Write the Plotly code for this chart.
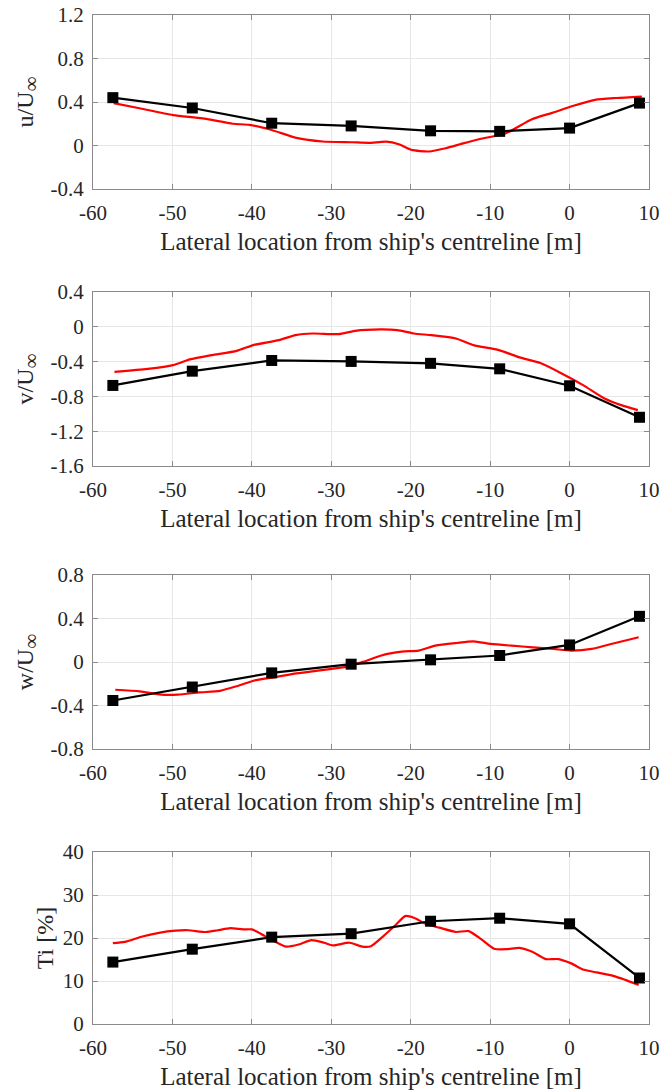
import plotly.graph_objects as go

# ---- data ----
x_exp = [-57.5, -47.5, -37.5, -27.5, -17.5, -8.8, 0.0, 8.8]

u_exp = [0.44, 0.345, 0.205, 0.18, 0.135, 0.13, 0.16, 0.39]
v_exp = [-0.674, -0.51, -0.387, -0.398, -0.42, -0.483, -0.678, -1.04]
w_exp = [-0.354, -0.23, -0.10, -0.02, 0.02, 0.06, 0.157, 0.42]
ti_exp = [14.4, 17.4, 20.2, 21.0, 23.9, 24.6, 23.3, 10.7]

u_cfd_x = [-57.4, -54.0, -49.9, -46.2, -42.4, -40.3, -37.6, -34.4, -31.1, -27.4, -25.2, -23.1, -21.5,
           -19.9, -17.7, -15.6, -13.4, -11.3, -8.1, -4.8, -2.2, 0.5, 3.2, 5.9, 9.1]
u_cfd = [0.39, 0.34, 0.28, 0.25, 0.20, 0.19, 0.145, 0.07, 0.037, 0.03, 0.025, 0.035, 0.012,
         -0.04, -0.055, -0.025, 0.02, 0.06, 0.11, 0.24, 0.30, 0.366, 0.42, 0.437, 0.45]

v_cfd_x = [-57.3, -53.1, -49.9, -47.8, -45.1, -41.9, -39.8, -36.6, -34.5, -32.3, -29.1, -27.0, -23.8,
           -21.7, -19.6, -17.4, -14.3, -12.1, -8.9, -6.3, -3.6, -1.0, 1.7, 4.4, 6.5, 8.6]
v_cfd = [-0.517, -0.483, -0.44, -0.375, -0.326, -0.276, -0.21, -0.153, -0.096, -0.077, -0.084, -0.046, -0.03,
         -0.038, -0.077, -0.096, -0.134, -0.21, -0.268, -0.352, -0.42, -0.536, -0.67, -0.824, -0.9, -0.958]

w_cfd_x = [-57.2, -54.1, -51.4, -49.3, -46.6, -44.0, -41.8, -39.7, -37.1, -34.4, -31.2, -28.0, -25.9,
           -23.8, -21.1, -19.0, -16.9, -14.2, -12.1, -9.9, -7.3, -4.6, -2.0, 0.2, 2.8, 5.5, 8.7]
w_cfd = [-0.255, -0.27, -0.30, -0.30, -0.28, -0.265, -0.22, -0.17, -0.14, -0.105, -0.074, -0.043, 0.003,
         0.058, 0.095, 0.105, 0.15, 0.175, 0.19, 0.166, 0.15, 0.135, 0.12, 0.105, 0.12, 0.17, 0.228]

ti_cfd_x = [-57.5, -56.0, -53.9, -51.7, -49.6, -48.0, -45.8, -44.3, -42.7, -41.1, -40.0, -38.4, -36.8,
            -35.7, -34.1, -32.5, -30.9, -29.8, -27.7, -26.1, -25.0, -23.4, -21.8, -20.7, -19.6, -18.0,
            -16.4, -14.3, -12.7, -11.1, -9.5, -7.9, -6.3, -4.7, -3.0, -1.4, 0.2, 1.8, 3.4, 5.5, 7.1, 8.7]
ti_cfd = [18.8, 19.1, 20.3, 21.2, 21.7, 21.8, 21.4, 21.8, 22.3, 22.0, 22.0, 20.5, 18.9,
          18.0, 18.5, 19.5, 18.9, 18.3, 18.9, 18.0, 18.1, 20.5, 23.2, 25.1, 24.7, 23.2,
          22.4, 21.4, 21.6, 19.7, 17.5, 17.4, 17.7, 16.8, 15.1, 15.1, 14.1, 12.6, 12.0, 11.2, 10.2, 9.1]

x_tickvals = [-60, -50, -40, -30, -20, -10, 0, 10]
x_ticktext = ["-60", "-50", "-40", "-30", "-20", "-10", "0", "10"]

y_ticks = [
    ([-0.4, 0, 0.4, 0.8, 1.2], ["-0.4", "0", "0.4", "0.8", "1.2"]),
    ([-1.6, -1.2, -0.8, -0.4, 0, 0.4], ["-1.6", "-1.2", "-0.8", "-0.4", "0", "0.4"]),
    ([-0.8, -0.4, 0, 0.4, 0.8], ["-0.8", "-0.4", "0", "0.4", "0.8"]),
    ([0, 10, 20, 30, 40], ["0", "10", "20", "30", "40"]),
]
y_ranges = [[-0.4, 1.2], [-1.6, 0.4], [-0.8, 0.8], [0, 40]]
INF = "<sub><span style='font-size:21px'>∞</span></sub>"
y_titles = ["u/U" + INF, "v/U" + INF, "w/U" + INF, "Ti [%]"]
y_title_standoff = [10, 10, 10, 2]
x_title = "Lateral location from ship's centreline [m]"

W, H = 662, 1091
panels_px = [(15, 189), (292, 466), (575, 749), (852, 1024)]
x_px = (93, 649)

FONT = "Liberation Serif, Times New Roman, serif"
TXT = "#262626"

fig = go.Figure()
series = [(u_cfd_x, u_cfd, u_exp), (v_cfd_x, v_cfd, v_exp), (w_cfd_x, w_cfd, w_exp), (ti_cfd_x, ti_cfd, ti_exp)]

for i, (cx, cy, ey) in enumerate(series):
    xa = "x" if i == 0 else f"x{i+1}"
    ya = "y" if i == 0 else f"y{i+1}"
    fig.add_trace(go.Scatter(x=cx, y=cy, mode="lines",
                             line=dict(color="#ff0000", width=2.2, shape="spline", smoothing=0.6),
                             xaxis=xa, yaxis=ya, showlegend=False))
    fig.add_trace(go.Scatter(x=x_exp, y=ey, mode="lines+markers", line=dict(color="#000000", width=2.2),
                             marker=dict(symbol="square", size=11, color="#000000"),
                             xaxis=xa, yaxis=ya, showlegend=False))

layout = dict(width=W, height=H, margin=dict(l=0, r=0, t=0, b=0),
              paper_bgcolor="white", plot_bgcolor="white",
              font=dict(family=FONT, color=TXT, size=21))

axis_common = dict(showline=True, linecolor="#8a8a8a", linewidth=1, mirror="ticks",
                   ticks="inside", ticklen=5, tickcolor="#8a8a8a",
                   showgrid=True, gridcolor="#e6e6e6", gridwidth=1, zeroline=False,
                   ticklabeloverflow="allow",
                   tickfont=dict(family=FONT, size=21, color=TXT), automargin=False)

for i, (top, bot) in enumerate(panels_px):
    sfx = "" if i == 0 else str(i + 1)
    layout[f"xaxis{sfx}"] = dict(axis_common, domain=[x_px[0] / W, x_px[1] / W], range=[-60, 10],
                                 tickvals=x_tickvals, ticktext=x_ticktext,
                                 anchor=f"y{sfx}", ticklabelstandoff=5,
                                 title=dict(text=x_title, font=dict(family=FONT, size=25, color=TXT), standoff=8))
    tv, tt = y_ticks[i]
    layout[f"yaxis{sfx}"] = dict(axis_common, domain=[1 - bot / H, 1 - top / H], range=y_ranges[i],
                                 tickvals=tv, ticktext=tt, anchor=f"x{sfx}", ticklabelstandoff=4,
                                 title=dict(text=y_titles[i], font=dict(family=FONT, size=24, color=TXT),
                                            standoff=y_title_standoff[i]))

fig.update_layout(**layout)
# remove the default 8px page margin so the figure fills the window exactly
fig.write_html("out.html", config={"displayModeBar": False},
               post_script="document.body.style.margin='0';document.body.style.overflow='hidden';")
